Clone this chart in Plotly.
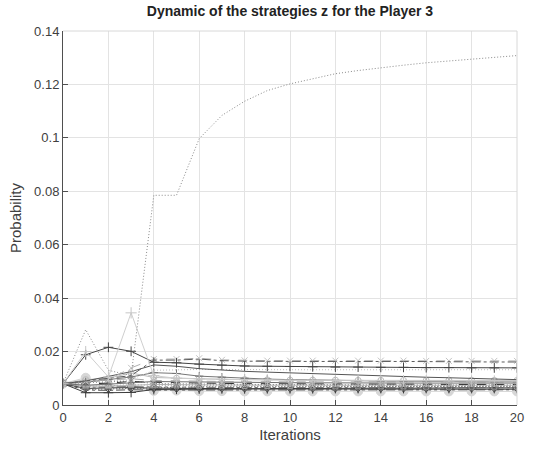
import plotly.graph_objects as go

# Iterations 0..20
iterations = list(range(21))

# Probability of selected strategies z of Player 3 at each iteration
z_rise = [0.0080, 0.0282, 0.0130, 0.0110, 0.0785, 0.0785, 0.0997, 0.1084, 0.1137, 0.1177, 0.1202,
          0.1222, 0.1240, 0.1252, 0.1263, 0.1272, 0.1281, 0.1288, 0.1295, 0.1302, 0.1308]
z_spike = [0.0080, 0.0200, 0.0105, 0.0345, 0.0110, 0.0100, 0.0098, 0.0096, 0.0095, 0.0094, 0.0093,
           0.0093, 0.0092, 0.0092, 0.0091, 0.0091, 0.0091, 0.0090, 0.0090, 0.0090, 0.0090]
z_hump = [0.0080, 0.0188, 0.0216, 0.0201, 0.0160, 0.0158, 0.0153, 0.0149, 0.0146, 0.0145, 0.0144,
          0.0143, 0.0142, 0.0142, 0.0141, 0.0141, 0.0140, 0.0140, 0.0139, 0.0139, 0.0139]
z_top_dashdot = [0.0080, 0.0090, 0.0098, 0.0110, 0.0168, 0.0168, 0.0172, 0.0166, 0.0164, 0.0163, 0.0163,
                 0.0163, 0.0163, 0.0162, 0.0163, 0.0163, 0.0162, 0.0162, 0.0162, 0.0161, 0.0161]
z_top_dashed = [0.0080, 0.0088, 0.0095, 0.0139, 0.0172, 0.0172, 0.0175, 0.0169, 0.0167, 0.0166, 0.0166,
                0.0166, 0.0166, 0.0166, 0.0166, 0.0166, 0.0165, 0.0165, 0.0165, 0.0165, 0.0165]
z_descend = [0.0080, 0.0090, 0.0107, 0.0125, 0.0150, 0.0145, 0.0136, 0.0130, 0.0126, 0.0123, 0.0120,
             0.0117, 0.0114, 0.0112, 0.0109, 0.0107, 0.0104, 0.0102, 0.0100, 0.0097, 0.0095]
z_flat_dotted = [0.0080, 0.0085, 0.0090, 0.0095, 0.0130, 0.0132, 0.0133, 0.0133, 0.0132, 0.0132, 0.0132,
                 0.0132, 0.0132, 0.0132, 0.0132, 0.0132, 0.0132, 0.0132, 0.0132, 0.0132, 0.0132]
z_mid = [0.0080, 0.0085, 0.0095, 0.0105, 0.0121, 0.0118, 0.0108, 0.0104, 0.0100, 0.0097, 0.0095,
         0.0093, 0.0092, 0.0091, 0.0090, 0.0089, 0.0089, 0.0088, 0.0088, 0.0087, 0.0087]
z_low_plus = [0.0080, 0.0046, 0.0046, 0.0047, 0.0058, 0.0059, 0.0060, 0.0061, 0.0061, 0.0062, 0.0062,
              0.0062, 0.0063, 0.0063, 0.0063, 0.0063, 0.0064, 0.0064, 0.0064, 0.0064, 0.0064]
z_low_circle = [0.0080, 0.0102, 0.0075, 0.0068, 0.0053, 0.0054, 0.0052, 0.0052, 0.0051, 0.0051, 0.0051,
                0.0051, 0.0051, 0.0051, 0.0051, 0.0051, 0.0051, 0.0051, 0.0051, 0.0051, 0.0051]
z_c3 = [0.0080, 0.0078, 0.0082, 0.0088, 0.0085, 0.0083, 0.0082, 0.0081, 0.0080, 0.0080, 0.0079,
        0.0079, 0.0079, 0.0078, 0.0078, 0.0078, 0.0078, 0.0077, 0.0077, 0.0077, 0.0077]
z_c4 = [0.0080, 0.0070, 0.0072, 0.0076, 0.0074, 0.0073, 0.0072, 0.0072, 0.0071, 0.0071, 0.0071,
        0.0070, 0.0070, 0.0070, 0.0070, 0.0070, 0.0069, 0.0069, 0.0069, 0.0069, 0.0069]
z_c5 = [0.0080, 0.0066, 0.0068, 0.0069, 0.0068, 0.0067, 0.0066, 0.0066, 0.0066, 0.0065, 0.0065,
        0.0065, 0.0065, 0.0065, 0.0065, 0.0065, 0.0065, 0.0065, 0.0065, 0.0065, 0.0065]
z_c6 = [0.0080, 0.0074, 0.0078, 0.0082, 0.0088, 0.0087, 0.0086, 0.0085, 0.0084, 0.0084, 0.0083,
        0.0083, 0.0083, 0.0082, 0.0082, 0.0082, 0.0082, 0.0082, 0.0082, 0.0082, 0.0082]
z_c7 = [0.0080, 0.0062, 0.0064, 0.0065, 0.0063, 0.0062, 0.0061, 0.0061, 0.0060, 0.0060, 0.0060,
        0.0060, 0.0059, 0.0059, 0.0059, 0.0059, 0.0059, 0.0059, 0.0059, 0.0059, 0.0059]
z_c8 = [0.0080, 0.0090, 0.0094, 0.0098, 0.0092, 0.0090, 0.0089, 0.0088, 0.0087, 0.0087, 0.0086,
        0.0086, 0.0086, 0.0085, 0.0085, 0.0085, 0.0085, 0.0085, 0.0085, 0.0085, 0.0085]
z_c9 = [0.0080, 0.0058, 0.0060, 0.0062, 0.0066, 0.0067, 0.0068, 0.0068, 0.0068, 0.0069, 0.0069,
        0.0069, 0.0069, 0.0069, 0.0069, 0.0070, 0.0070, 0.0070, 0.0070, 0.0070, 0.0070]
z_c10 = [0.0080, 0.0072, 0.0070, 0.0073, 0.0077, 0.0076, 0.0075, 0.0075, 0.0075, 0.0074, 0.0074,
         0.0074, 0.0074, 0.0074, 0.0074, 0.0074, 0.0074, 0.0074, 0.0074, 0.0074, 0.0074]
z_c11 = [0.0080, 0.0095, 0.0100, 0.0120, 0.0103, 0.0100, 0.0098, 0.0096, 0.0095, 0.0094, 0.0093,
         0.0093, 0.0093, 0.0092, 0.0092, 0.0092, 0.0092, 0.0092, 0.0092, 0.0092, 0.0092]
z_c12 = [0.0080, 0.0056, 0.0055, 0.0057, 0.0056, 0.0056, 0.0057, 0.0057, 0.0057, 0.0057, 0.0057,
         0.0057, 0.0057, 0.0057, 0.0057, 0.0057, 0.0057, 0.0057, 0.0057, 0.0057, 0.0057]
z_c13 = [0.0080, 0.0084, 0.0086, 0.0090, 0.0080, 0.0079, 0.0078, 0.0077, 0.0077, 0.0076, 0.0076,
         0.0076, 0.0075, 0.0075, 0.0075, 0.0075, 0.0075, 0.0075, 0.0075, 0.0075, 0.0075]
z_c14 = [0.0080, 0.0068, 0.0066, 0.0070, 0.0061, 0.0060, 0.0060, 0.0059, 0.0059, 0.0058, 0.0058,
         0.0058, 0.0058, 0.0058, 0.0058, 0.0058, 0.0058, 0.0058, 0.0058, 0.0058, 0.0058]

FINE_DOT = "1px,2px"

# (series, line colour, dash, marker symbol, marker size, marker colour)
styles = [
    (z_low_circle, "#d2d2d2", "solid", "circle", 9, "#d6d6d6"),
    (z_c12, "#4a4a4a", "dashdot", "triangle-down-open", 5, "#4a4a4a"),
    (z_c14, "#8a8a8a", "dash", "cross-thin-open", 6, "#8a8a8a"),
    (z_c7, "#3a3a3a", "solid", None, 0, None),
    (z_low_plus, "#3c3c3c", "solid", "cross-thin-open", 7, "#3c3c3c"),
    (z_c5, "#6a6a6a", "dashdot", "diamond-open", 5, "#6a6a6a"),
    (z_c9, "#505050", FINE_DOT, None, 0, None),
    (z_c4, "#9a9a9a", FINE_DOT, "square-open", 5, "#9a9a9a"),
    (z_c10, "#b4b4b4", "solid", "triangle-up-open", 5, "#b4b4b4"),
    (z_c13, "#7a7a7a", FINE_DOT, "x-thin-open", 6, "#7a7a7a"),
    (z_c3, "#2e2e2e", "dash", None, 0, None),
    (z_c6, "#707070", "solid", None, 0, None),
    (z_c8, "#a8a8a8", "dash", "asterisk-open", 6, "#a8a8a8"),
    (z_c11, "#bdbdbd", "solid", "circle-open", 6, "#bdbdbd"),
    (z_mid, "#777777", "solid", "cross-thin-open", 6, "#777777"),
    (z_flat_dotted, "#bcbcbc", FINE_DOT, None, 0, None),
    (z_descend, "#555555", "solid", None, 0, None),
    (z_top_dashed, "#b0b0b0", "dash", "x-thin-open", 6, "#c4c4c4"),
    (z_top_dashdot, "#5c5c5c", "dashdot", None, 0, None),
    (z_hump, "#454545", "solid", "cross-thin-open", 7, "#454545"),
    (z_spike, "#cfcfcf", "solid", "cross-thin-open", 8, "#c6c6c6"),
    (z_rise, "#8a8a8a", FINE_DOT, None, 0, None),
]

fig = go.Figure()
for values, color, dash, symbol, msize, mcolor in styles:
    kw = dict(x=iterations, y=values, line=dict(color=color, width=1, dash=dash), showlegend=False)
    if symbol:
        kw["mode"] = "lines+markers"
        kw["marker"] = dict(symbol=symbol, size=msize, color=mcolor,
                            line=dict(color=mcolor, width=1))
    else:
        kw["mode"] = "lines"
    fig.add_trace(go.Scatter(**kw))

axis_color = "#4f4f4f"
grid_color = "#e3e3e3"
FONT = "Liberation Sans, Arial, sans-serif"
tick_font = dict(family=FONT, size=13, color="#404040")
label_font = dict(family=FONT, size=15, color="#404040")

fig.update_xaxes(
    range=[0, 20], tickmode="array", tickvals=list(range(0, 21, 2)),
    ticktext=[str(v) for v in range(0, 21, 2)],
    showgrid=True, gridcolor=grid_color, gridwidth=1,
    showline=True, linecolor=axis_color, linewidth=1,
    ticks="inside", ticklen=5, tickcolor=axis_color, tickfont=tick_font,
    zeroline=False,
    title=dict(text="Iterations", font=label_font, standoff=5),
)
fig.update_yaxes(
    range=[0, 0.14], tickmode="array",
    tickvals=[0, 0.02, 0.04, 0.06, 0.08, 0.10, 0.12, 0.14],
    ticktext=["0", "0.02", "0.04", "0.06", "0.08", "0.1", "0.12", "0.14"],
    showgrid=True, gridcolor=grid_color, gridwidth=1,
    showline=True, linecolor=axis_color, linewidth=1,
    ticks="inside", ticklen=5, tickcolor=axis_color, tickfont=tick_font,
    zeroline=False,
    title=dict(text="Probability", font=label_font, standoff=8),
)

# light frame along the top and right edges of the axes box
fig.add_shape(type="line", xref="paper", yref="paper", x0=0, x1=1, y0=1, y1=1,
              line=dict(color="#d8d8d8", width=1))
fig.add_shape(type="line", xref="paper", yref="paper", x0=1, x1=1, y0=0, y1=1,
              line=dict(color="#d8d8d8", width=1))

fig.update_layout(
    width=547, height=451,
    margin=dict(l=63, r=30, t=31, b=46),
    plot_bgcolor="white", paper_bgcolor="white",
    showlegend=False,
    title=dict(text="<b>Dynamic of the strategies z for the Player 3</b>",
               font=dict(family=FONT, size=14, color="#222222"),
               x=0.5, xref="paper", xanchor="center",
               y=1 - 11 / 451, yref="container", yanchor="middle"),
)

fig.write_html("out.html")
